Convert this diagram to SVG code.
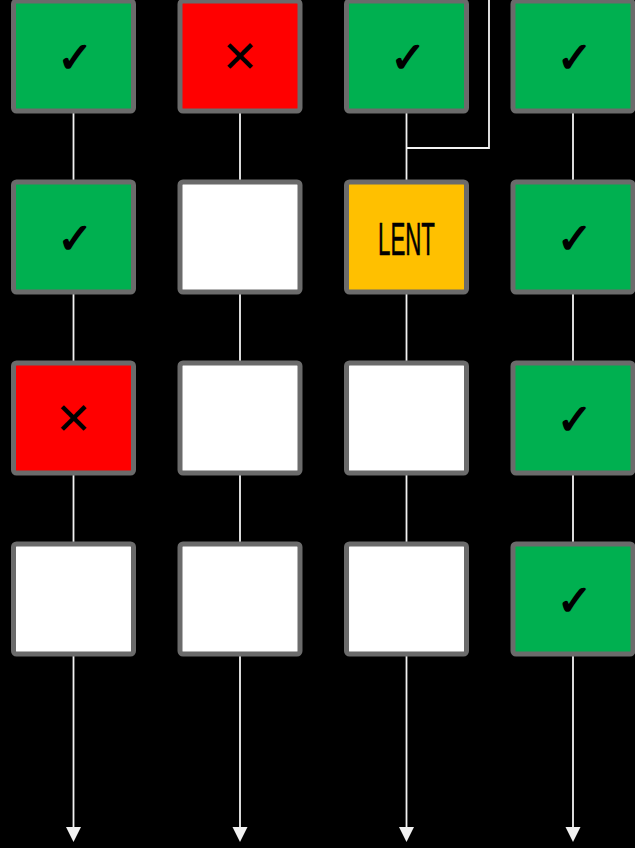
<svg xmlns="http://www.w3.org/2000/svg" width="635" height="848" viewBox="0 0 635 848">
<style>
.box{stroke:#6b6b6b;stroke-width:5}
.g{fill:#00b050}.r{fill:#ff0000}.y{fill:#ffc000}.w{fill:#ffffff}
.c{fill:none;stroke:#f2f2f2;stroke-width:1.8}
.sym{font-family:"DejaVu Sans",sans-serif;font-weight:bold;font-size:42px;fill:#000;text-anchor:middle}
.ck{stroke:#000;stroke-width:1.6;stroke-linejoin:round}
.x{font-size:44px}
.lent{font-family:"Liberation Sans",sans-serif;font-size:46px;fill:#000;text-anchor:middle;stroke:#000;stroke-width:0.6}
</style>
<rect width="635" height="848" fill="#000"/>
<g id="connectors">
<path class="c" d="M73.5,113 V180"/><path class="c" d="M73.5,294 V361"/><path class="c" d="M73.5,475 V542"/>
<path class="c" d="M240,113 V180"/><path class="c" d="M240,294 V361"/><path class="c" d="M240,475 V542"/>
<path class="c" d="M406.5,113 V180"/><path class="c" d="M406.5,294 V361"/><path class="c" d="M406.5,475 V542"/>
<path class="c" d="M573,113 V180"/><path class="c" d="M573,294 V361"/><path class="c" d="M573,475 V542"/>
<path class="c" d="M489,0 V148 H406.5"/>
<path class="c" d="M573,0 V3"/>
<path class="c" d="M73.5,656 V828"/><path d="M66,827 L81,827 L73.5,842 Z" fill="#f2f2f2"/>
<path class="c" d="M240,656 V828"/><path d="M232.5,827 L247.5,827 L240,842 Z" fill="#f2f2f2"/>
<path class="c" d="M406.5,656 V828"/><path d="M399,827 L414,827 L406.5,842 Z" fill="#f2f2f2"/>
<path class="c" d="M573,656 V828"/><path d="M565.5,827 L580.5,827 L573,842 Z" fill="#f2f2f2"/>
</g>
<g id="n11"><rect class="box g" x="13.5" y="1" width="120" height="110" rx="3"/><text class="sym ck" x="75" y="72">✓</text></g>
<g id="n12"><rect class="box r" x="180" y="1" width="120" height="110" rx="3"/><text class="sym x" x="240" y="72">✕</text></g>
<g id="n13"><rect class="box g" x="346.5" y="1" width="120" height="110" rx="3"/><text class="sym ck" x="408" y="72">✓</text></g>
<g id="n14"><rect class="box g" x="513" y="1" width="120" height="110" rx="3"/><text class="sym ck" x="574.5" y="72">✓</text></g>

<g id="n21"><rect class="box g" x="13.5" y="182" width="120" height="110" rx="3"/><text class="sym ck" x="75" y="253">✓</text></g>
<g id="n22"><rect class="box w" x="180" y="182" width="120" height="110" rx="3"/></g>
<g id="n23"><rect class="box y" x="346.5" y="182" width="120" height="110" rx="3"/><text class="lent" x="406.5" y="255" textLength="57" lengthAdjust="spacingAndGlyphs">LENT</text></g>
<g id="n24"><rect class="box g" x="513" y="182" width="120" height="110" rx="3"/><text class="sym ck" x="574.5" y="253">✓</text></g>

<g id="n31"><rect class="box r" x="13.5" y="363" width="120" height="110" rx="3"/><text class="sym x" x="73.5" y="434">✕</text></g>
<g id="n32"><rect class="box w" x="180" y="363" width="120" height="110" rx="3"/></g>
<g id="n33"><rect class="box w" x="346.5" y="363" width="120" height="110" rx="3"/></g>
<g id="n34"><rect class="box g" x="513" y="363" width="120" height="110" rx="3"/><text class="sym ck" x="574.5" y="434">✓</text></g>

<g id="n41"><rect class="box w" x="13.5" y="544" width="120" height="110" rx="3"/></g>
<g id="n42"><rect class="box w" x="180" y="544" width="120" height="110" rx="3"/></g>
<g id="n43"><rect class="box w" x="346.5" y="544" width="120" height="110" rx="3"/></g>
<g id="n44"><rect class="box g" x="513" y="544" width="120" height="110" rx="3"/><text class="sym ck" x="574.5" y="615">✓</text></g>
</svg>
